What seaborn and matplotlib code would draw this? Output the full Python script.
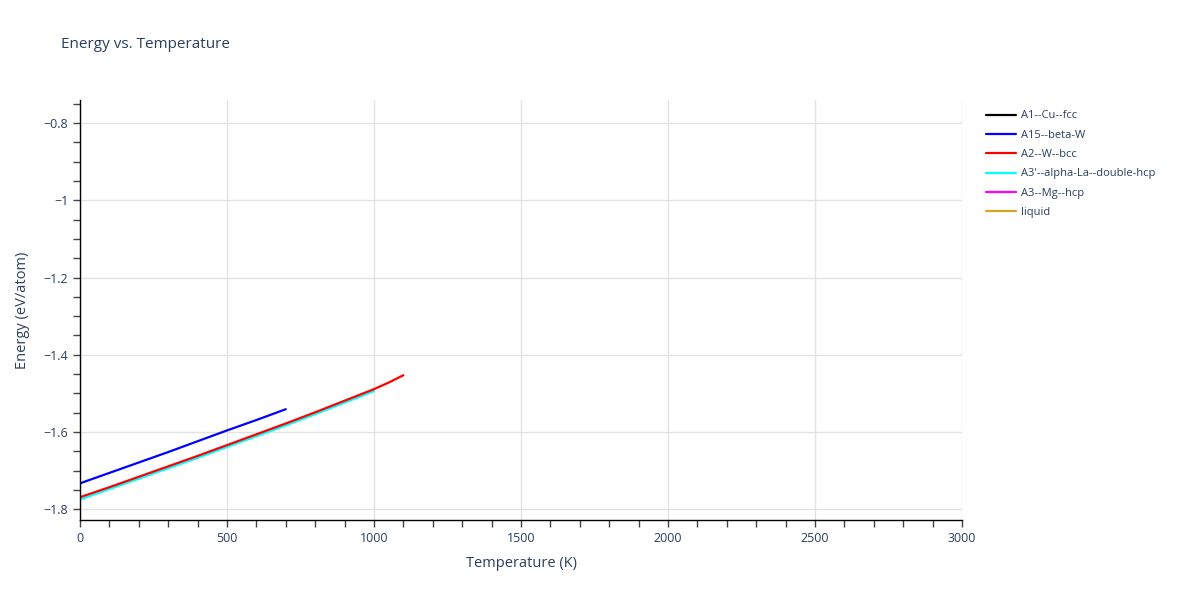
import numpy as np
import pandas as pd
import seaborn as sns
import matplotlib.pyplot as plt
from matplotlib.lines import Line2D
from matplotlib.ticker import MultipleLocator

# Series (temperature in K, energy in eV/atom)
a15_temp = [0, 100, 200, 300, 400, 500, 600, 700]
a15_energy = [-1.733, -1.706, -1.679, -1.652, -1.624, -1.596, -1.569, -1.541]

a2_temp = [0, 100, 200, 300, 400, 500, 600, 700, 800, 900, 1000, 1050, 1100]
a2_energy = [-1.769, -1.743, -1.716, -1.689, -1.662, -1.634, -1.606, -1.578,
             -1.549, -1.519, -1.489, -1.472, -1.453]

a3p_temp = [0, 100, 200, 300, 400, 500, 600, 700, 800, 900, 1000]
a3p_energy = [-1.775, -1.748, -1.721, -1.694, -1.667, -1.639, -1.611, -1.583,
              -1.554, -1.524, -1.494]

phases = ["A1--Cu--fcc", "A15--beta-W", "A2--W--bcc",
          "A3'--alpha-La--double-hcp", "A3--Mg--hcp", "liquid"]
colors = ["black", "blue", "red", "cyan", "magenta", "goldenrod"]

series = {
    "A1--Cu--fcc": ([], []),
    "A15--beta-W": (a15_temp, a15_energy),
    "A2--W--bcc": (a2_temp, a2_energy),
    "A3'--alpha-La--double-hcp": (a3p_temp, a3p_energy),
    "A3--Mg--hcp": ([], []),
    "liquid": ([], []),
}

rows = []
for name, (t, e) in series.items():
    for ti, ei in zip(t, e):
        rows.append({"phase": name, "T": ti, "E": ei})
df = pd.DataFrame(rows)

sns.set_style("white")
plt.rcParams['font.family'] = ['Open Sans', 'DejaVu Sans']
text_col = "#2a3f5f"

fig = plt.figure(figsize=(12, 6), dpi=100)
ax = fig.add_axes([80 / 1200, 80 / 600, 882 / 1200, 420 / 600])

palette = dict(zip(phases, colors))
# draw in reverse so earlier phases sit on top, as in the reference
for name in phases[::-1]:
    sub = df[df.phase == name]
    if len(sub):
        sns.lineplot(data=sub, x="T", y="E", color=palette[name], lw=1.6,
                     ax=ax, legend=False, sort=False)

ax.set_xlim(0, 3000)
ax.set_ylim(-1.828, -0.740)
ax.xaxis.set_major_locator(MultipleLocator(500))
ax.xaxis.set_minor_locator(MultipleLocator(100))
ax.yaxis.set_major_locator(MultipleLocator(0.2))
ax.yaxis.set_minor_locator(MultipleLocator(0.05))
ax.set_yticks(np.arange(-1.8, -0.79, 0.2))
ax.set_yticklabels(["\u22121.8", "\u22121.6", "\u22121.4", "\u22121.2", "\u22121", "\u22120.8"])
ax.grid(True, which="major", color="#e2e2e2", lw=1)
ax.set_axisbelow(True)
for s in ["top", "right"]:
    ax.spines[s].set_visible(False)
for s in ["left", "bottom"]:
    ax.spines[s].set_color("black")
    ax.spines[s].set_linewidth(1)
ax.tick_params(which="both", direction="out", length=5, width=1, color="#444444",
               labelsize=9, labelcolor=text_col, left=True, bottom=True)
ax.set_xlabel("Temperature (K)", fontsize=10.5, color=text_col, labelpad=8)
ax.set_ylabel("Energy (eV/atom)", fontsize=10.5, color=text_col, labelpad=10)

fig.text(61 / 1200, 1 - 45 / 600, "Energy vs. Temperature", fontsize=11,
         color=text_col, va="center", ha="left")

handles = [Line2D([], [], color=c, lw=1.6) for c in colors]
fig.legend(handles, phases, loc="upper left", bbox_to_anchor=(982 / 1200, 1 - 106 / 600),
           frameon=False, fontsize=8, labelcolor=text_col, handlelength=2.7,
           handletextpad=0.45, labelspacing=0.75, borderaxespad=0)

fig.savefig("out.png", dpi=100)
